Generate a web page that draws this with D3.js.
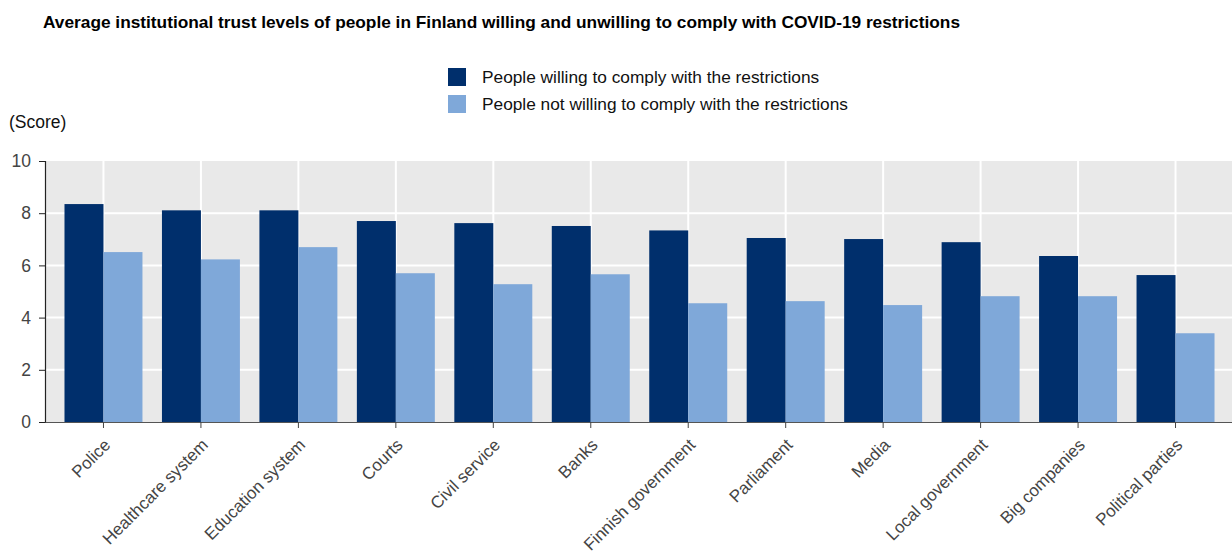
<!DOCTYPE html>
<html>
<head>
<meta charset="utf-8">
<script src="https://cdn.jsdelivr.net/npm/d3@7"></script>
<style>
  body { margin: 0; background: #fff; }
  svg { display: block; font-family: "Liberation Sans", Arial, sans-serif; }
</style>
</head>
<body>
<svg id="chart" width="1232" height="555"></svg>
<script>
// Chart data
const categories = ['Police', 'Healthcare system', 'Education system', 'Courts', 'Civil service', 'Banks',
    'Finnish government', 'Parliament', 'Media', 'Local government', 'Big companies', 'Political parties'];
const willing = [8.35, 8.11, 8.11, 7.70, 7.62, 7.51, 7.34, 7.05, 7.01, 6.89, 6.36, 5.63];
const notWilling = [6.51, 6.23, 6.70, 5.70, 5.28, 5.66, 4.55, 4.63, 4.48, 4.82, 4.82, 3.40];
const seriesNames = ['People willing to comply with the restrictions', 'People not willing to comply with the restrictions'];
const colors = ['#002f6c', '#7fa8d9'];
const yTicks = [0, 2, 4, 6, 8, 10];

const svg = d3.select('#chart');
const plotLeft = 45, plotRight = 1232, plotTop = 161, plotBottom = 422;

const x = d3.scaleBand()
    .domain(categories)
    .range([plotLeft, 1234])
    .paddingInner(0)
    .paddingOuter(0.1);

const y = d3.scaleLinear()
    .domain([0, 10])
    .range([plotBottom, plotTop]);

// Title
svg.append('text')
    .attr('x', 43).attr('y', 28)
    .attr('font-size', 17)
    .attr('font-weight', 'bold')
    .attr('fill', '#000')
    .attr('textLength', 917)
    .attr('lengthAdjust', 'spacingAndGlyphs')
    .text('Average institutional trust levels of people in Finland willing and unwilling to comply with COVID-19 restrictions');

// Legend
const legend = svg.append('g').attr('transform', 'translate(448,68)');
seriesNames.forEach((name, i) => {
    const row = legend.append('g').attr('transform', `translate(0,${i * 27})`);
    row.append('rect').attr('width', 18).attr('height', 18).attr('fill', colors[i]);
    row.append('text')
        .attr('x', 34).attr('y', 15)
        .attr('font-size', 17.3)
        .attr('fill', '#111')
        .text(name);
});

svg.append('text')
    .attr('x', 9).attr('y', 128)
    .attr('font-size', 17.5)
    .attr('fill', '#111')
    .text('(Score)');

// Plot background
svg.append('rect')
    .attr('x', plotLeft).attr('y', plotTop)
    .attr('width', plotRight - plotLeft).attr('height', plotBottom - plotTop)
    .attr('fill', '#e9e9e9');

// Horizontal grid lines
svg.append('g')
    .selectAll('line')
    .data(yTicks.filter(d => d > 0 && d < 10))
    .join('line')
    .attr('x1', plotLeft).attr('x2', plotRight)
    .attr('y1', d => y(d)).attr('y2', d => y(d))
    .attr('stroke', '#fff').attr('stroke-width', 2);

// Vertical grid lines at category centres
svg.append('g')
    .selectAll('line')
    .data(categories)
    .join('line')
    .attr('x1', d => x(d) + x.bandwidth() / 2).attr('x2', d => x(d) + x.bandwidth() / 2)
    .attr('y1', plotTop).attr('y2', plotBottom)
    .attr('stroke', '#fff').attr('stroke-width', 2);

// Bars
const barW = x.bandwidth() * 0.4;
const groups = svg.append('g')
    .selectAll('g')
    .data(categories)
    .join('g')
    .attr('transform', d => `translate(${x(d) + x.bandwidth() / 2},0)`);

groups.append('rect')
    .attr('x', -barW)
    .attr('y', (d, i) => y(willing[i]))
    .attr('width', barW)
    .attr('height', (d, i) => y(0) - y(willing[i]))
    .attr('fill', colors[0]);

groups.append('rect')
    .attr('x', 0)
    .attr('y', (d, i) => y(notWilling[i]))
    .attr('width', barW)
    .attr('height', (d, i) => y(0) - y(notWilling[i]))
    .attr('fill', colors[1]);

// Y axis
const yAxis = svg.append('g')
    .attr('transform', `translate(${plotLeft},0)`)
    .call(d3.axisLeft(y).tickValues(yTicks).tickSize(6).tickPadding(8));
yAxis.select('.domain').attr('stroke', '#222').attr('stroke-width', 1.2);
yAxis.selectAll('.tick line').attr('stroke', '#222');
yAxis.selectAll('.tick text')
    .attr('font-size', 17.5)
    .attr('fill', '#444')
    .attr('font-family', '"Liberation Sans", Arial, sans-serif');

// X axis
const xAxis = svg.append('g')
    .attr('transform', `translate(0,${plotBottom})`)
    .call(d3.axisBottom(x).tickSize(6).tickSizeOuter(0));
xAxis.select('.domain').attr('stroke', '#555').attr('stroke-width', 1.2);
xAxis.selectAll('.tick line').attr('stroke', '#444');
xAxis.selectAll('.tick text')
    .attr('font-size', 17)
    .attr('fill', '#444')
    .attr('font-family', '"Liberation Sans", Arial, sans-serif')
    .attr('text-anchor', 'end')
    .attr('transform', 'translate(8,24) rotate(-45)')
    .attr('dy', 0)
    .attr('y', 0);
</script>
</body>
</html>
